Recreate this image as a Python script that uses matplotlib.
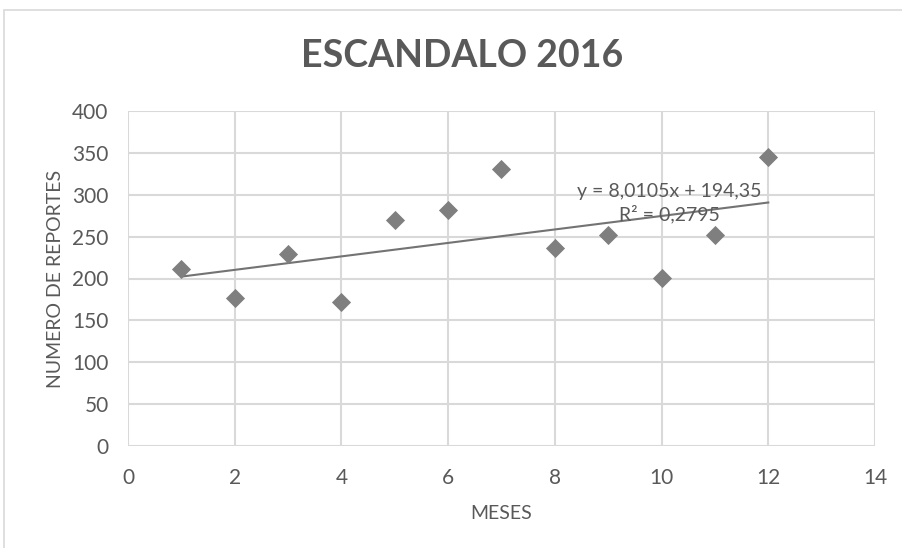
import numpy as np
import matplotlib.pyplot as plt
from matplotlib.patches import Rectangle

# data
meses = [1, 2, 3, 4, 5, 6, 7, 8, 9, 10, 11, 12]
reportes = [211, 177, 229, 172, 270, 282, 331, 236, 252, 201, 252, 345]
x_ticks = [0, 2, 4, 6, 8, 10, 12, 14]
y_ticks = [0, 50, 100, 150, 200, 250, 300, 350, 400]
trend_label = "y = 8,0105x + 194,35\nR² = 0,2795"

text_col = '#595959'
grid_col = '#d9d9d9'
mark_col = '#7f7f7f'

plt.rcParams['font.family'] = ['Lato', 'DejaVu Sans']

fig = plt.figure(figsize=(9.02, 5.48), dpi=100)
ax = fig.add_axes([128/902, 1-446/548, (875-128)/902, (446-111)/548])

# chart frame
fig.patches.append(Rectangle((4/902, -0.1), 1.2, 1-10/548+0.1, transform=fig.transFigure,
                             fill=False, edgecolor='#d9d9d9', lw=1.2))

ax.scatter(meses, reportes, marker='D', s=95, color=mark_col, zorder=3, linewidths=0)

# linear trendline
m, b = np.polyfit(meses, reportes, 1)
xs = np.array([meses[0], meses[-1]])
ax.plot(xs, m*xs + b, color='#737373', lw=1.5, zorder=2)
ax.text(10.15, 290, trend_label, ha='center', va='center', fontsize=14,
        color=text_col, linespacing=1.3)

ax.set_xlim(0, 14)
ax.set_ylim(0, 400)
ax.set_xticks(x_ticks)
ax.set_yticks(y_ticks)
ax.grid(True, color=grid_col, lw=1.5)
ax.set_axisbelow(True)
for s in ax.spines.values():
    s.set_visible(False)
ax.tick_params(length=0, labelsize=15, colors=text_col)
ax.tick_params(axis='x', pad=16)
ax.tick_params(axis='y', pad=14)

ax.set_xlabel('MESES', fontsize=14, color=text_col, labelpad=12)
ax.set_ylabel('NUMERO DE REPORTES', fontsize=14, color=text_col, labelpad=6)
fig.text(462/902, 1-56/548, 'ESCANDALO 2016', ha='center', va='center',
         fontsize=27, fontweight='bold', color=text_col)

fig.savefig('out.png', dpi=100)
